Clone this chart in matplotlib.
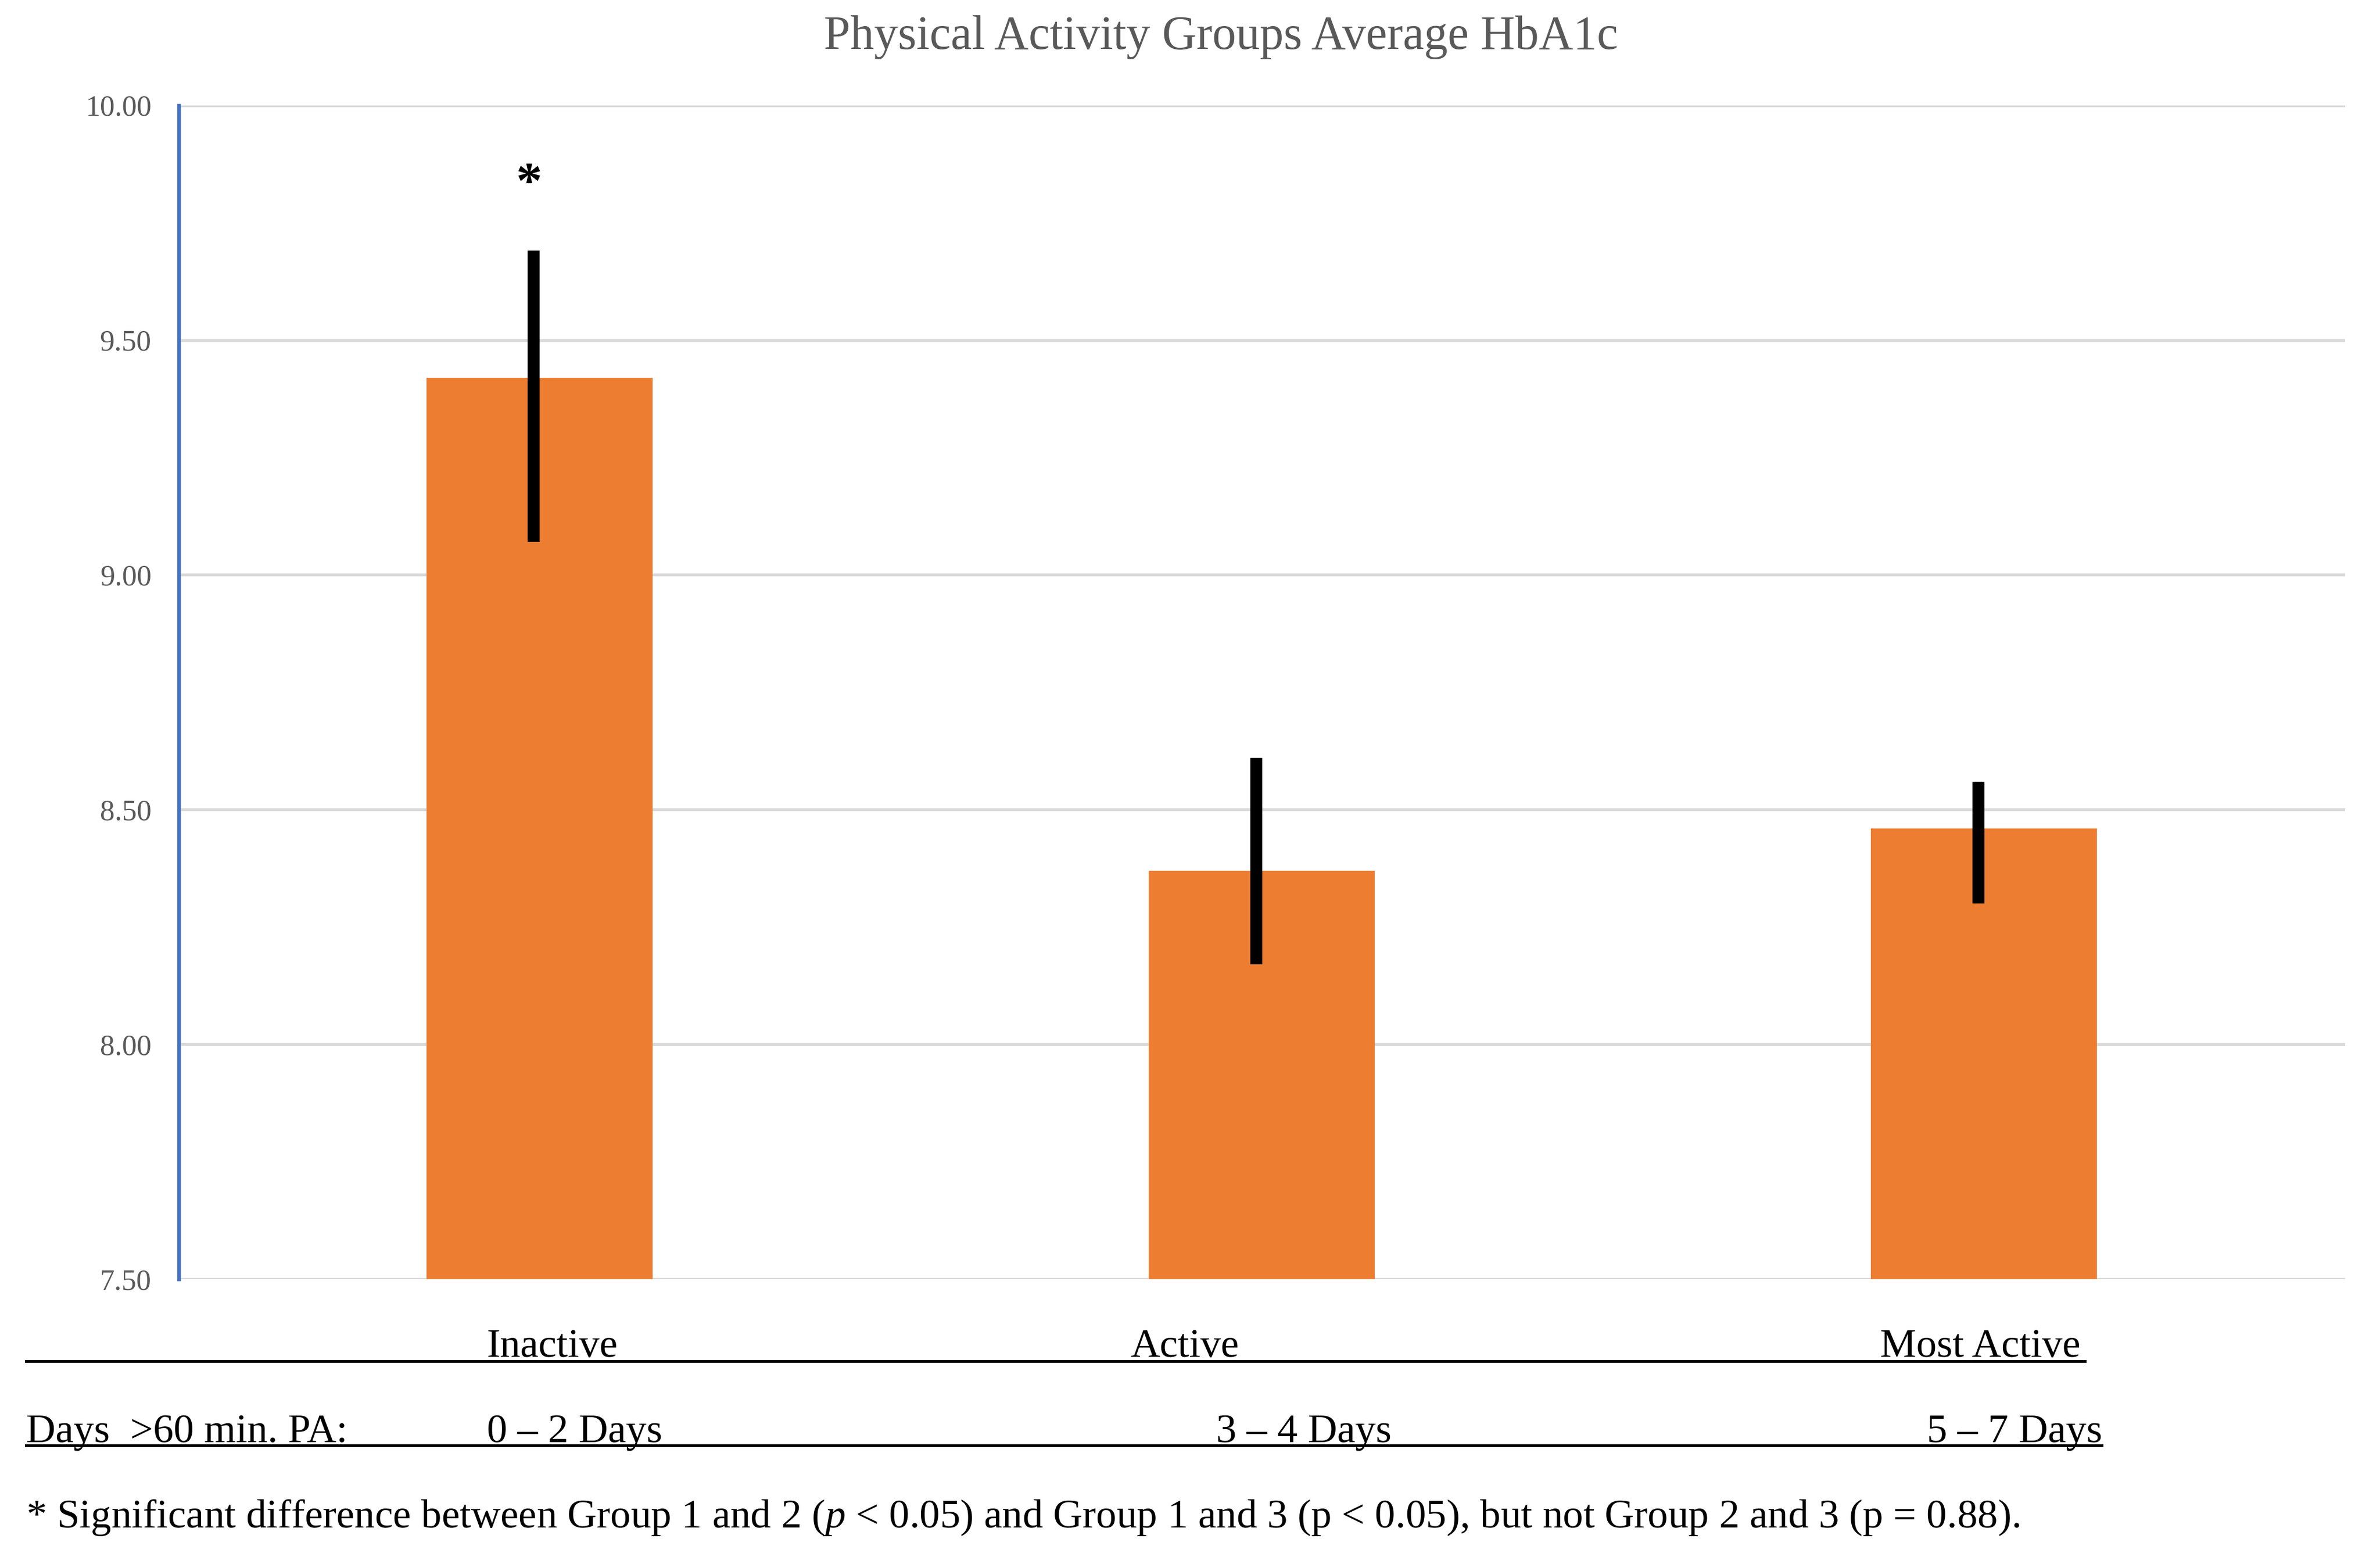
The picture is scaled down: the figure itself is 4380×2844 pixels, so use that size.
import numpy as np
import matplotlib.pyplot as plt
from matplotlib.lines import Line2D

# ── data ────────────────────────────────────────────────────────────────────
groups = ["Inactive", "Active", "Most Active"]
day_ranges = ["0 – 2 Days", "3 – 4 Days", "5 – 7 Days"]
mean_hba1c = [9.42, 8.37, 8.46]
err_low = [9.07, 8.17, 8.30]    # lower end of error bar
err_high = [9.69, 8.61, 8.56]   # upper end of error bar
y_ticks = [7.50, 8.00, 8.50, 9.00, 9.50, 10.00]

SERIF = ["Liberation Serif", "DejaVu Serif"]
plt.rcParams["font.family"] = SERIF
plt.rcParams["mathtext.fontset"] = "custom"
plt.rcParams["mathtext.rm"] = "Liberation Serif"
plt.rcParams["mathtext.it"] = "Liberation Serif:italic"

BAR_COLOR = "#ED7D31"
GRID_COLOR = "#D9D9D9"
TEXT_GRAY = "#595959"

# ── figure / axes ───────────────────────────────────────────────────────────
fig = plt.figure(figsize=(14.6, 9.48), dpi=300, facecolor="white")
ax = fig.add_axes([0.075, 0.1726, 0.9104, 0.7593])

x = np.arange(len(groups))
means = np.array(mean_hba1c)
yerr = np.vstack([means - np.array(err_low), np.array(err_high) - means])

ax.bar(x, means, width=0.313, color=BAR_COLOR, zorder=2)
ax.errorbar(x - 0.008, means, yerr=yerr, fmt="none", ecolor="black",
            elinewidth=5.3, capsize=0, zorder=3)

ax.set_xlim(-0.5, len(groups) - 0.5)
ax.set_ylim(7.5, 10.0)
ax.set_yticks(y_ticks)
ax.set_yticklabels([f"{v:.2f}" for v in y_ticks], color=TEXT_GRAY,
                   fontsize=13)
ax.tick_params(axis="y", length=0, pad=12)
ax.set_xticks([])
ax.yaxis.grid(True, color=GRID_COLOR, linewidth=1.3, zorder=0)
ax.set_axisbelow(True)

for s in ["top", "right", "bottom"]:
    ax.spines[s].set_visible(False)
ax.spines["left"].set_color("#4472C4")
ax.spines["left"].set_linewidth(1.6)
ax.spines["left"].set_zorder(4)

# significance marker
ax.text(x[0] - 0.015, 9.83, "*", ha="center", va="center",
        fontsize=23, fontweight="bold", color="black")

fig.text(0.513, 0.976, "Physical Activity Groups Average HbA1c",
         ha="center", va="center", fontsize=21, color=TEXT_GRAY)

# ── table underneath ────────────────────────────────────────────────────────
group_x = [0.2045, 0.475, 0.790]
range_x = [0.2045, 0.511, 0.8096]
for gx, lab in zip(group_x, groups):
    fig.text(gx, 0.1224, lab, ha="left", va="baseline", fontsize=18)
for rx, lab in zip(range_x, day_ranges):
    fig.text(rx, 0.0671, lab, ha="left", va="baseline", fontsize=18)
fig.text(0.0109, 0.0671, "Days  >60 min. PA:", ha="left", va="baseline",
         fontsize=18)

fig.add_artist(Line2D([0.0109, 0.876], [0.1194, 0.1194],
                      transform=fig.transFigure, color="black", lw=1.2))
fig.add_artist(Line2D([0.0109, 0.883], [0.0651, 0.0651],
                      transform=fig.transFigure, color="black", lw=1.2))

fig.text(0.0109, 0.0118,
         "* Significant difference between Group 1 and 2 ($\\mathit{p}$ < 0.05) "
         "and Group 1 and 3 (p < 0.05), but not Group 2 and 3 (p = 0.88).",
         ha="left", va="baseline", fontsize=18)

fig.savefig("out.png", dpi=300, facecolor="white")
